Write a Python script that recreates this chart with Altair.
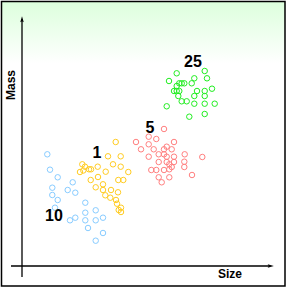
import altair as alt
import pandas as pd

# Data in chart units: origin where the two axes cross
blue_x = [25.3, 28, 35.7, 50.7, 30.3, 45.7, 53.3, 30.3, 35.7, 63.3, 33, 63.3, 73.7, 53.3, 48, 63.3, 73.7, 81, 66, 81, 73.7]
blue_y = [111.7, 96.3, 88.7, 83.7, 78.3, 76, 73.3, 71, 66, 63.3, 58.3, 53.3, 55.7, 48.3, 45.7, 45.7, 45.7, 48.3, 38, 33, 25.3]

yellow_x = [93.7, 86, 98.7, 91, 60.3, 63, 75.7, 98.7, 58, 67, 69, 83.7, 106.3, 76, 68.7, 96.3, 101.3, 81, 73.7, 81, 89, 96, 83.3, 88.3, 94, 95, 99, 96.7, 99, 61.3]
yellow_y = [124, 109.7, 109.7, 101.7, 101.7, 99.3, 99.3, 99.3, 94, 96.7, 96.7, 94.3, 94, 89, 86, 86, 86, 81.7, 78.7, 76, 76, 73.7, 70.7, 68.3, 66, 62.3, 58.3, 56, 54, 95.5]

red_x = [142, 114, 126.7, 134.3, 126.7, 152, 144.7, 119, 131.7, 142, 149.7, 136.7, 142, 162.7, 180.3, 126.7, 144.7, 152, 162.3, 136.7, 144.7, 152, 147.3, 149.7, 162.3, 129.3, 134.3, 142, 147.3, 136.7, 147.3, 170, 139.7]
red_y = [137, 124, 129.3, 127, 121.7, 124, 119.3, 116.7, 116.7, 116.7, 116.7, 111.7, 111.7, 111.7, 109, 109.3, 109.3, 109.3, 104.3, 104, 104, 104, 101.7, 99, 99, 96, 96, 96, 96.7, 88.7, 88.7, 91, 83.7]

green_x = [154.7, 182.7, 147, 172.3, 185, 154.7, 157.3, 159.7, 162.3, 169.7, 152, 154.7, 157.3, 175, 182.7, 190, 156.3, 172.3, 182.7, 159.7, 164.7, 172.3, 182.7, 192.7, 144.7, 182.7, 167.3]
green_y = [192.7, 195, 185, 187.7, 187.7, 180, 182.7, 182.7, 182.7, 182.7, 175, 175, 175, 175, 175, 177.3, 170, 170, 170, 164.7, 164.7, 162.3, 162.3, 162.3, 159.7, 152, 149.3]

group_names = ["10", "1", "5", "25"]
group_colors = ["#88ccff", "#ffcc22", "#ff8080", "#22ee22"]
label_x = [32, 75, 128, 171]
label_y = [50, 113, 138, 204]

rows = []
for name, xs, ys in zip(group_names, [blue_x, yellow_x, red_x, green_x], [blue_y, yellow_y, red_y, green_y]):
    for a, b in zip(xs, ys):
        rows.append({"size": a, "mass": b, "group": name})
points = pd.DataFrame(rows)
labels = pd.DataFrame({"size": label_x, "mass": label_y, "text": group_names})

X = alt.Scale(domain=[-22, 265], range=[0, 287], nice=False, zero=False)
Y = alt.Scale(domain=[-22, 266], range=[288, 0], nice=False, zero=False)

one = pd.DataFrame({"a": [0]})

bg = alt.Chart(one).mark_rect(
    fill=alt.Gradient(
        gradient="linear", x1=0, x2=0, y1=0, y2=1,
        stops=[alt.GradientStop(offset=0, color="#dcffdc"),
               alt.GradientStop(offset=0.22, color="#ffffff"),
               alt.GradientStop(offset=1, color="#ffffff")]),
).encode(x=alt.value(1), x2=alt.value(285), y=alt.value(1), y2=alt.value(286))

border = alt.Chart(one).mark_rect(
    fill=None, stroke="black", strokeWidth=1.5
).encode(x=alt.value(1.5), x2=alt.value(285), y=alt.value(1.5), y2=alt.value(286))

axes = pd.DataFrame({
    "x1": [-11, 0], "x2": [247, 0],
    "y1": [0, -11], "y2": [0, 247],
})
axis_lines = alt.Chart(axes).mark_rule(color="black", strokeWidth=1.3).encode(
    x=alt.X("x1:Q", scale=X, axis=None), x2="x2:Q",
    y=alt.Y("y1:Q", scale=Y, axis=None), y2="y2:Q",
)

heads = pd.DataFrame({"x": [0, 248], "y": [246, 0], "ang": [0, 90]})
arrow = alt.Chart(heads).mark_point(
    shape="M0,-1L0.45,0.6L0,0.3L-0.45,0.6Z", filled=True, color="black", opacity=1, size=60
).encode(
    x=alt.X("x:Q", scale=X, axis=None),
    y=alt.Y("y:Q", scale=Y, axis=None),
    angle=alt.Angle("ang:Q", scale=None),
)

pts = alt.Chart(points).mark_point(shape="circle", filled=False, size=30, strokeWidth=1, opacity=1).encode(
    x=alt.X("size:Q", scale=X, axis=None),
    y=alt.Y("mass:Q", scale=Y, axis=None),
    color=alt.Color("group:N", scale=alt.Scale(domain=group_names, range=group_colors), legend=None),
)

txt = alt.Chart(labels).mark_text(
    font="Liberation Sans", fontWeight="bold", fontSize=16, color="black", align="center", baseline="middle"
).encode(
    x=alt.X("size:Q", scale=X, axis=None),
    y=alt.Y("mass:Q", scale=Y, axis=None),
    text="text:N",
)

titles = pd.DataFrame({"x": [208, -11], "y": [-8, 181], "t": ["Size", "Mass"], "ang": [0, 270]})
ttl = alt.Chart(titles).mark_text(
    font="Liberation Sans", fontWeight="bold", fontSize=12, color="black", align="center", baseline="middle"
).encode(
    x=alt.X("x:Q", scale=X, axis=None),
    y=alt.Y("y:Q", scale=Y, axis=None),
    text="t:N",
    angle=alt.Angle("ang:Q", scale=None),
)

chart = alt.layer(bg, axis_lines, arrow, pts, txt, ttl, border).properties(
    width=287, height=288, padding=0, autosize=alt.AutoSizeParams(type="none")
).configure_view(stroke=None)

chart.save("out.html", embed_options={"renderer": "svg", "actions": False})
